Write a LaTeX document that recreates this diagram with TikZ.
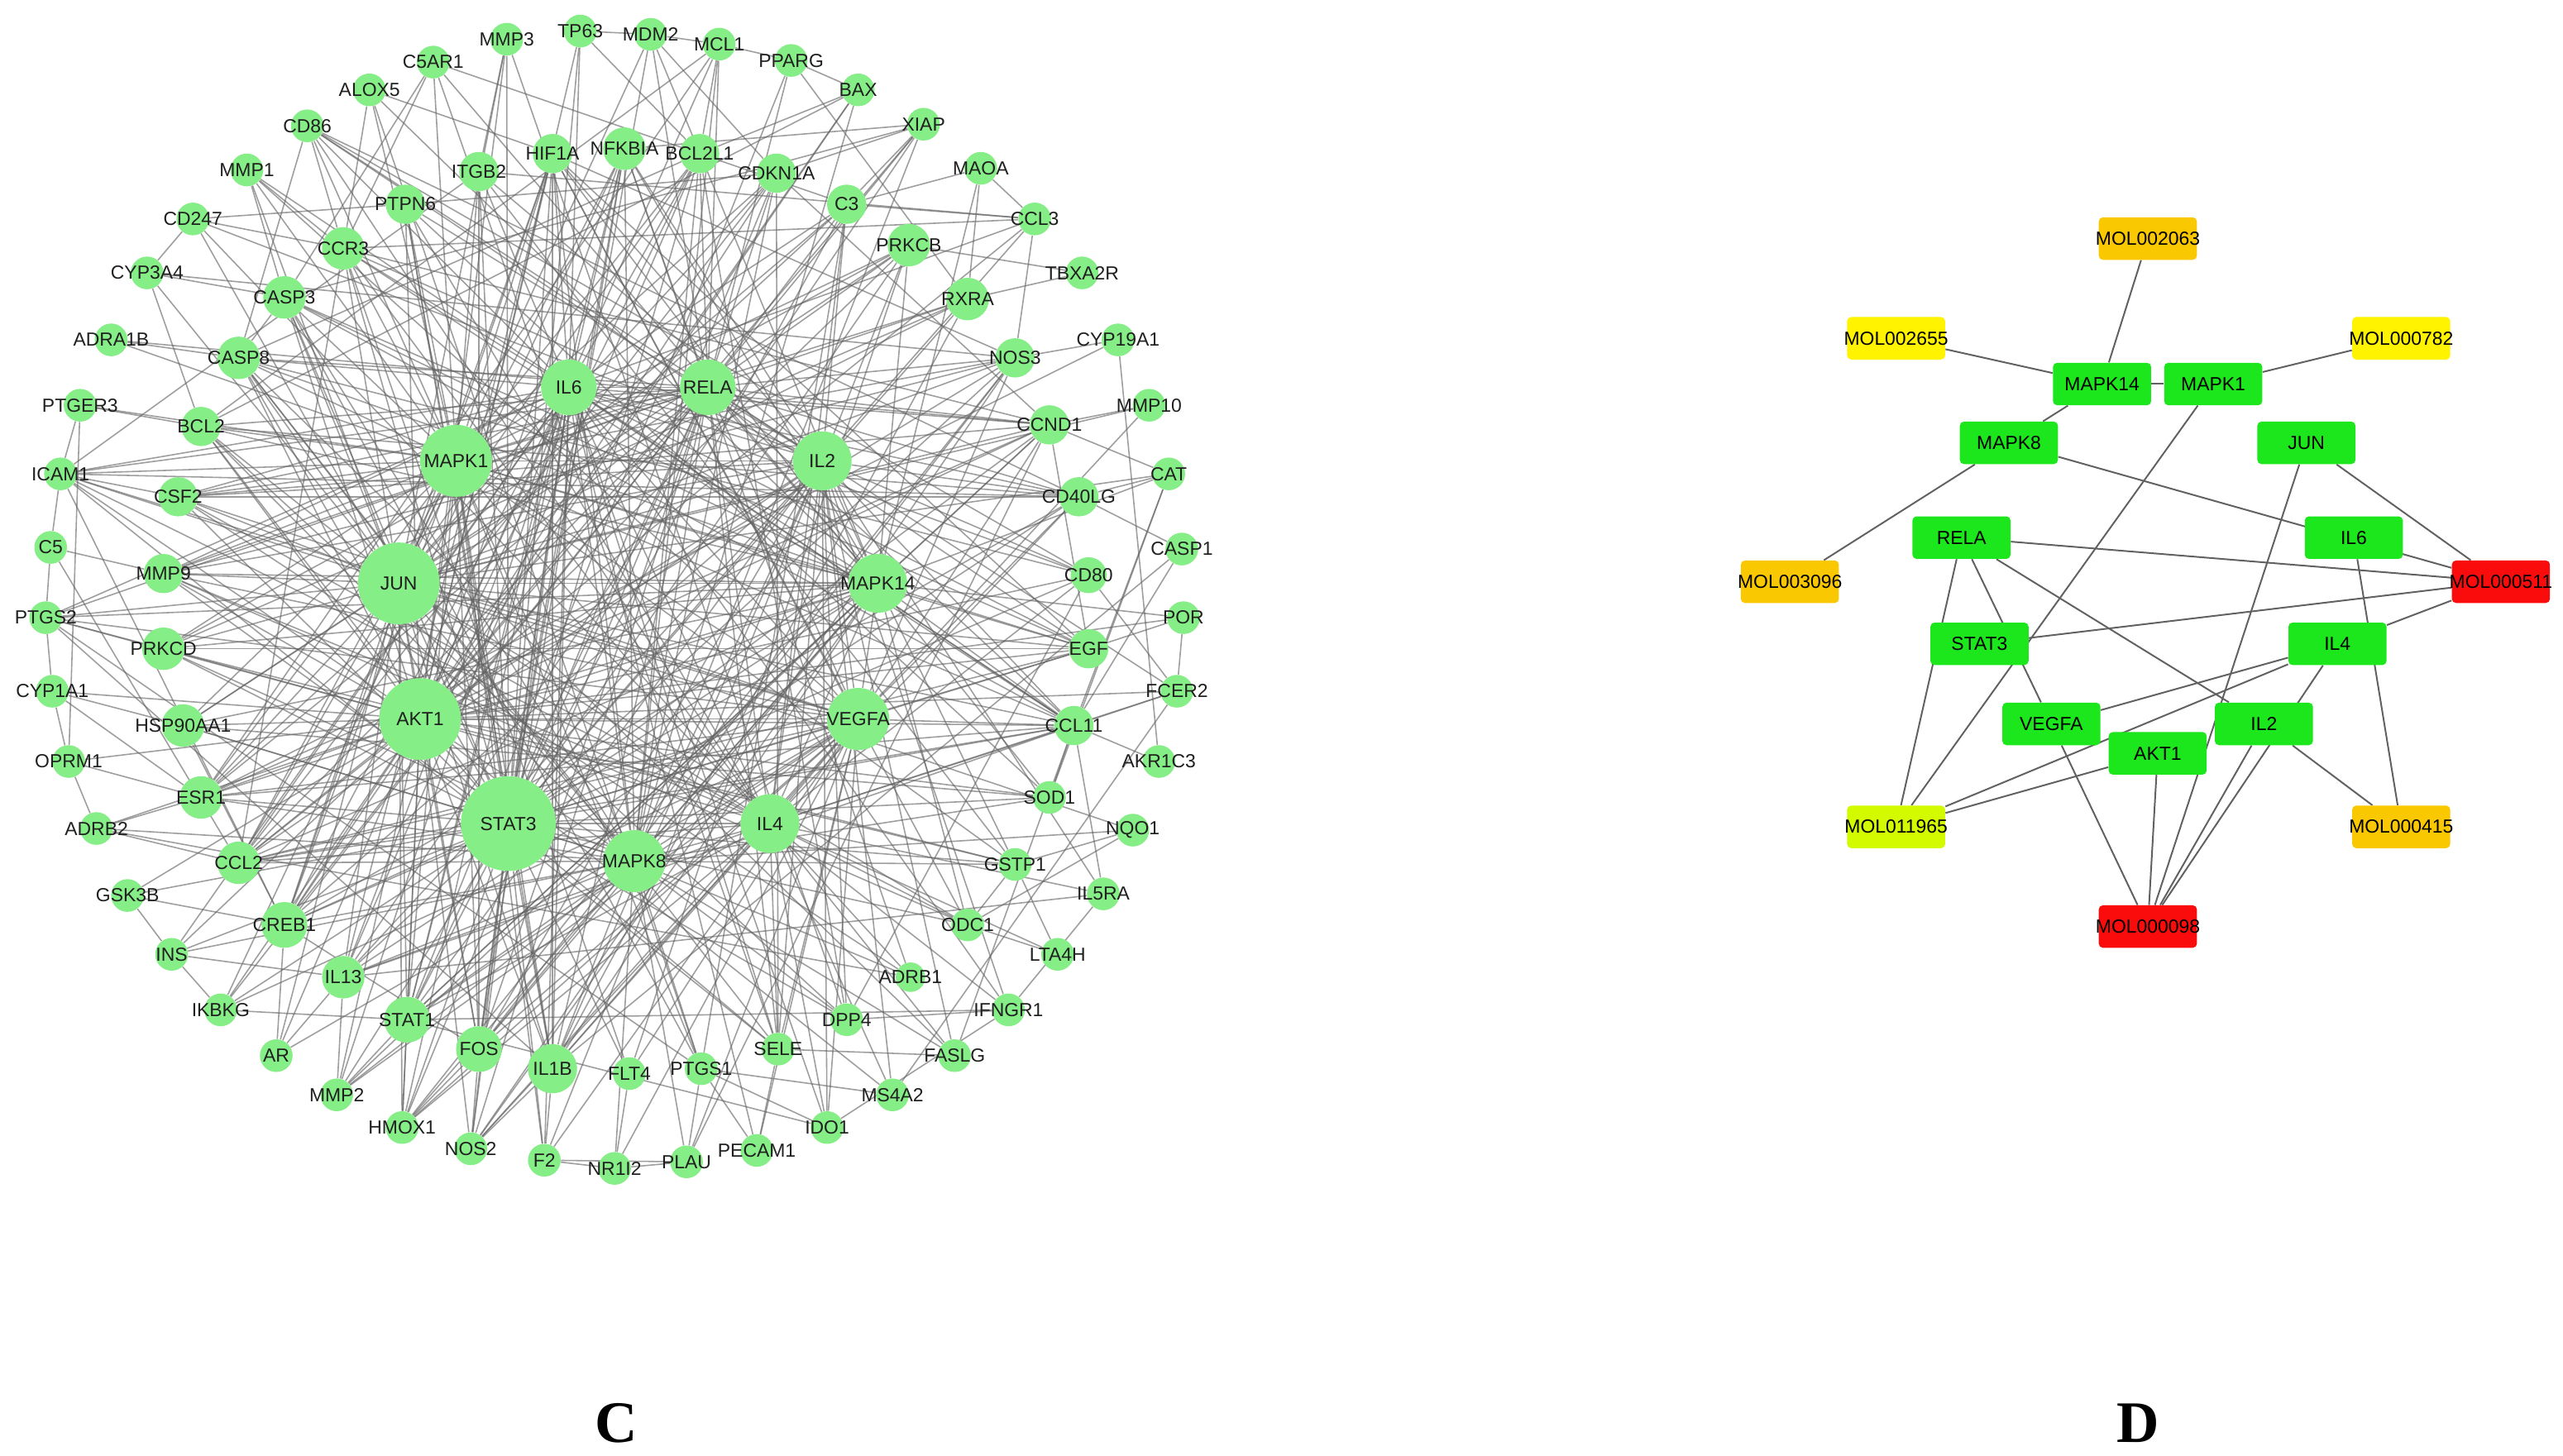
\documentclass[tikz,border=0pt]{standalone}
\usepackage{fontspec}
\setmainfont{Liberation Sans}
\newfontfamily\capfont{Liberation Serif}
\usetikzlibrary{backgrounds}
\definecolor{cgreen}{RGB}{134,238,134}
\definecolor{dgreen}{RGB}{28,230,28}
\definecolor{dorange}{RGB}{250,200,0}
\definecolor{dyellow}{RGB}{255,243,0}
\definecolor{dlime}{RGB}{212,250,0}
\definecolor{dred}{RGB}{250,12,12}
\definecolor{cedge}{RGB}{100,100,100}
\tikzset{
  cn/.style={circle, fill=cgreen, draw=none, inner sep=0pt},
  clab/.style={font=\fontsize{11.6}{12}\selectfont, text=black!88, inner sep=0pt},
  ce/.style={draw=cedge, line width=0.8pt, opacity=0.62},
  dbox/.style={rectangle, rounded corners=2.5pt, minimum width=60pt, minimum height=26pt, inner sep=0pt, draw=none},
  dlab/.style={font=\fontsize{11.6}{12}\selectfont, text=black, inner sep=0pt},
  de/.style={draw=black!62, line width=1pt},
  caplab/.style={font=\capfont\bfseries\fontsize{36}{40}\selectfont, inner sep=0pt}
}
\newcommand\mygn[4]{\node[cn, minimum size=#4pt, label={[clab]center:#1}] (#1) at (#2,#3) {};}
\newcommand\mydn[5]{\node[dbox, fill=#4, label={[dlab]center:#5}] (d#1) at (#2,#3) {};}
\begin{document}
\begin{tikzpicture}[x=1pt,y=-1pt]
\useasboundingbox (0,0) rectangle (1568,891);
% ---------------- panel C : outer ring
\mygn{TP63}{355}{19}{20}
\mygn{MDM2}{398}{21}{20}
\mygn{MCL1}{440}{27}{20}
\mygn{PPARG}{484}{37}{20}
\mygn{BAX}{525}{55}{20}
\mygn{XIAP}{565}{76}{20}
\mygn{MAOA}{600}{103}{20}
\mygn{CCL3}{633}{134}{20}
\mygn{TBXA2R}{662}{167}{20}
\mygn{CYP19A1}{684}{208}{20}
\mygn{MMP10}{703}{248}{20}
\mygn{CAT}{715}{290}{20}
\mygn{CASP1}{723}{336}{20}
\mygn{POR}{724}{378}{20}
\mygn{FCER2}{720}{423}{20}
\mygn{AKR1C3}{709}{466}{20}
\mygn{NQO1}{693}{508}{20}
\mygn{IL5RA}{675}{547}{20}
\mygn{LTA4H}{647}{584}{20}
\mygn{IFNGR1}{617}{618}{20}
\mygn{FASLG}{584}{646}{20}
\mygn{MS4A2}{546}{670}{20}
\mygn{IDO1}{506}{690}{20}
\mygn{PECAM1}{463}{704}{20}
\mygn{PLAU}{420}{711}{20}
\mygn{NR1I2}{376}{715}{20}
\mygn{F2}{333}{710}{20}
\mygn{NOS2}{288}{703}{20}
\mygn{HMOX1}{246}{690}{20}
\mygn{MMP2}{206}{670}{20}
\mygn{AR}{169}{646}{20}
\mygn{IKBKG}{135}{618}{20}
\mygn{INS}{105}{584}{20}
\mygn{GSK3B}{78}{548}{20}
\mygn{ADRB2}{59}{507}{20}
\mygn{OPRM1}{42}{466}{20}
\mygn{CYP1A1}{32}{423}{20}
\mygn{PTGS2}{28}{378}{20}
\mygn{C5}{31}{335}{20}
\mygn{ICAM1}{37}{290}{20}
\mygn{PTGER3}{49}{248}{20}
\mygn{ADRA1B}{68}{208}{20}
\mygn{CYP3A4}{90}{167}{20}
\mygn{CD247}{118}{134}{20}
\mygn{MMP1}{151}{104}{20}
\mygn{CD86}{188}{77}{20}
\mygn{ALOX5}{226}{55}{20}
\mygn{C5AR1}{265}{38}{20}
\mygn{MMP3}{310}{24}{20}
% inner ring
\mygn{HIF1A}{338}{94}{24}
\mygn{ITGB2}{293}{105}{24}
\mygn{PTPN6}{248}{125}{24}
\mygn{CCR3}{210}{152}{26}
\mygn{CASP3}{174}{182}{26}
\mygn{CASP8}{146}{219}{26}
\mygn{BCL2}{123}{261}{24}
\mygn{CSF2}{109}{304}{24}
\mygn{MMP9}{100}{351}{24}
\mygn{PRKCD}{100}{397}{26}
\mygn{HSP90AA1}{112}{444}{26}
\mygn{ESR1}{123}{488}{26}
\mygn{CCL2}{146}{528}{26}
\mygn{CREB1}{174}{566}{28}
\mygn{IL13}{210}{598}{26}
\mygn{STAT1}{249}{624}{28}
\mygn{FOS}{293}{642}{28}
\mygn{IL1B}{338}{654}{30}
\mygn{FLT4}{385}{657}{20}
\mygn{PTGS1}{429}{654}{20}
\mygn{SELE}{476}{642}{20}
\mygn{DPP4}{518}{624}{20}
\mygn{ADRB1}{557}{598}{18}
\mygn{ODC1}{592}{566}{20}
\mygn{GSTP1}{621}{529}{20}
\mygn{SOD1}{642}{488}{20}
\mygn{CCL11}{657}{444}{24}
\mygn{EGF}{666}{397}{24}
\mygn{CD80}{666}{352}{22}
\mygn{CD40LG}{660}{304}{24}
\mygn{CCND1}{642}{260}{24}
\mygn{NOS3}{621}{219}{24}
\mygn{RXRA}{592}{183}{26}
\mygn{PRKCB}{556}{150}{26}
\mygn{C3}{518}{125}{24}
\mygn{CDKN1A}{475}{106}{24}
\mygn{BCL2L1}{428}{94}{24}
\mygn{NFKBIA}{382}{91}{26}
% hubs
\mygn{IL6}{348}{237}{34}
\mygn{RELA}{433}{237}{34}
\mygn{IL2}{503}{282}{36}
\mygn{MAPK1}{279}{282}{44}
\mygn{JUN}{244}{357}{50}
\mygn{MAPK14}{537}{357}{36}
\mygn{AKT1}{257}{440}{50}
\mygn{VEGFA}{525}{440}{38}
\mygn{STAT3}{311}{504}{58}
\mygn{IL4}{471}{504}{36}
\mygn{MAPK8}{388}{527}{38}
% ---------------- panel D
\mydn{M002063}{1314}{146}{dorange}{MOL002063}
\mydn{M002655}{1160}{207}{dyellow}{MOL002655}
\mydn{M000782}{1469}{207}{dyellow}{MOL000782}
\mydn{MAPK14}{1286}{235}{dgreen}{MAPK14}
\mydn{MAPK1}{1354}{235}{dgreen}{MAPK1}
\mydn{MAPK8}{1229}{271}{dgreen}{MAPK8}
\mydn{JUN}{1411}{271}{dgreen}{JUN}
\mydn{RELA}{1200}{329}{dgreen}{RELA}
\mydn{IL6}{1440}{329}{dgreen}{IL6}
\mydn{M003096}{1095}{356}{dorange}{MOL003096}
\mydn{M000511}{1530}{356}{dred}{MOL000511}
\mydn{STAT3}{1211}{394}{dgreen}{STAT3}
\mydn{IL4}{1430}{394}{dgreen}{IL4}
\mydn{VEGFA}{1255}{443}{dgreen}{VEGFA}
\mydn{IL2}{1385}{443}{dgreen}{IL2}
\mydn{AKT1}{1320}{461}{dgreen}{AKT1}
\mydn{M011965}{1160}{506}{dlime}{MOL011965}
\mydn{M000415}{1469}{506}{dorange}{MOL000415}
\mydn{M000098}{1314}{567}{dred}{MOL000098}
% captions
\node[caplab] (capC) at (377,871) {C};
\node[caplab] (capD) at (1308,871) {D};
% ---------------- edges
\begin{pgfonlayer}{background}
\fill[white] (0,0) rectangle (1568,891);
% hub-hub
\foreach \a/\b in {STAT3/AKT1,STAT3/JUN,STAT3/MAPK1,STAT3/IL6,STAT3/RELA,STAT3/IL2,STAT3/MAPK14,STAT3/VEGFA,STAT3/IL4,STAT3/MAPK8,
AKT1/JUN,AKT1/MAPK1,AKT1/IL6,AKT1/RELA,AKT1/IL2,AKT1/MAPK14,AKT1/VEGFA,AKT1/IL4,AKT1/MAPK8,
JUN/MAPK1,JUN/IL6,JUN/RELA,JUN/IL2,JUN/MAPK14,JUN/VEGFA,JUN/IL4,JUN/MAPK8,
MAPK1/IL6,MAPK1/RELA,MAPK1/IL2,MAPK1/MAPK14,MAPK1/VEGFA,MAPK1/IL4,MAPK1/MAPK8,
IL6/RELA,IL6/IL2,IL6/MAPK14,IL6/VEGFA,IL6/IL4,IL6/MAPK8,
RELA/IL2,RELA/MAPK14,RELA/VEGFA,RELA/IL4,RELA/MAPK8,
IL2/MAPK14,IL2/VEGFA,IL2/IL4,IL2/MAPK8,MAPK14/VEGFA,MAPK14/IL4,MAPK14/MAPK8,VEGFA/IL4,VEGFA/MAPK8,IL4/MAPK8}
  \draw[ce] (\a) -- (\b);
\foreach \t in {MMP3,TP63,MDM2,HIF1A,NFKBIA,BCL2L1,CDKN1A,C3,PRKCB,RXRA,NOS3,CCND1,EGF,CCL11,SOD1,GSTP1,ODC1,DPP4,SELE,IL1B,FOS,STAT1,IL13,CREB1,CCL2,ESR1,HSP90AA1,PRKCD,MMP9,CSF2,BCL2,CASP8,CASP3,CCR3,PTPN6,ITGB2,IKBKG,MMP2,HMOX1,NOS2,F2,INS,GSK3B,CD40LG,FLT4}
  \draw[ce] (STAT3) -- (\t);
\foreach \t in {MMP3,TP63,MCL1,BAX,XIAP,HIF1A,NFKBIA,BCL2L1,CDKN1A,PRKCB,NOS3,CCND1,EGF,CCL11,GSTP1,IL1B,FOS,STAT1,CREB1,CCL2,ESR1,HSP90AA1,PRKCD,MMP9,BCL2,CASP8,CASP3,PTPN6,INS,GSK3B,IKBKG,AR,MMP2,HMOX1,NOS2,CYP1A1,PTGS2,ICAM1,ADRB2,OPRM1,POR,FCER2,CD80,SOD1,MS4A2}
  \draw[ce] (AKT1) -- (\t);
\foreach \t in {MMP1,MMP3,CD247,CYP3A4,MDM2,HIF1A,NFKBIA,BCL2L1,CDKN1A,C3,RXRA,NOS3,CCND1,EGF,CCL11,FOS,STAT1,CREB1,CCL2,ESR1,HSP90AA1,PRKCD,MMP9,CSF2,BCL2,CASP8,CASP3,CCR3,IL13,IL1B,MMP10,CAT,HMOX1,NQO1,ODC1,AR,PTGS2,ICAM1}
  \draw[ce] (JUN) -- (\t);
\foreach \t in {ALOX5,C5AR1,CD86,MMP1,HIF1A,ITGB2,PTPN6,CCR3,CASP3,CASP8,BCL2,CSF2,MMP9,PRKCD,HSP90AA1,ESR1,CCL2,CREB1,STAT1,FOS,IL1B,NOS3,RXRA,PRKCB,EGF,CCL11,CDKN1A,BCL2L1,GSTP1,PTGS1,F2,ADRA1B,PTGER3,ICAM1}
  \draw[ce] (MAPK1) -- (\t);
\foreach \t in {TP63,HIF1A,NFKBIA,BCL2L1,C3,CCL3,CD40LG,CD80,CCND1,EGF,CCL11,IL1B,FOS,STAT1,IL13,CREB1,CCL2,CSF2,MMP9,ICAM1,SELE,PTGS2,HMOX1,NOS2,F2,IDO1,PECAM1,MMP2,INS,IFNGR1,CASP8,CCR3,ITGB2,CD86}
  \draw[ce] (IL6) -- (\t);
\foreach \t in {MDM2,NFKBIA,BCL2L1,CDKN1A,XIAP,C3,PRKCB,RXRA,NOS3,CCND1,CD40LG,CCL11,IL1B,FOS,STAT1,IKBKG,CCL2,ICAM1,PTGS2,HMOX1,NOS2,SELE,CASP8,BCL2,MMP9,CSF2,ESR1,CREB1,MCL1,PPARG}
  \draw[ce] (RELA) -- (\t);
\foreach \t in {CD247,PTPN6,CCR3,CD86,CD80,CD40LG,CCL3,CCL11,FASLG,IL13,IL1B,STAT1,CSF2,MMP9,HIF1A,NFKBIA,C3,IFNGR1,IL5RA,SELE,DPP4,IDO1,FOS,CREB1,CCL2,MS4A2,FCER2,ITGB2}
  \draw[ce] (IL2) -- (\t);
\foreach \t in {MDM2,HIF1A,NFKBIA,PRKCB,CCND1,EGF,CCL11,IL1B,FOS,STAT1,CREB1,CCL2,HSP90AA1,ESR1,PRKCD,CASP3,CASP8,BCL2,MMP9,MMP2,PTGS2,NOS2,HMOX1,ALOX5,C5AR1,MAOA,POR,GSTP1,SOD1,CAT,ODC1}
  \draw[ce] (MAPK14) -- (\t);
\foreach \t in {HIF1A,EGF,NOS3,CCND1,CD40LG,PECAM1,SELE,FLT4,MMP9,MMP2,MMP1,MMP10,IL1B,FOS,STAT1,CCL2,CCL11,ICAM1,PTGS2,HMOX1,NOS2,F2,PLAU,CSF2,ESR1,AR,IDO1,NR1I2,IKBKG}
  \draw[ce] (VEGFA) -- (\t);
\foreach \t in {CCL11,CCL2,CCR3,CD40LG,CD80,CD86,FCER2,MS4A2,IL13,IL1B,IL5RA,STAT1,CSF2,IFNGR1,MMP9,IDO1,SELE,FASLG,ICAM1,HMOX1,PTPN6,CD247,NOS2,ODC1,ADRB1,LTA4H,C3}
  \draw[ce] (IL4) -- (\t);
\foreach \t in {HIF1A,NFKBIA,BCL2L1,CDKN1A,MCL1,BAX,XIAP,CASP3,CASP8,BCL2,FOS,STAT1,CREB1,CCL2,IL1B,HSP90AA1,ESR1,PRKCD,GSTP1,SOD1,NQO1,ADRB1,ADRB2,DPP4,FASLG,PTGS1,PLAU,NR1I2,IL13,INS,MMP2}
  \draw[ce] (MAPK8) -- (\t);
\foreach \a/\b in {TP63/MDM2,MDM2/MCL1,MCL1/PPARG,PPARG/BAX,NR1I2/PLAU,F2/NR1I2,CYP19A1/AKR1C3,C5/PTGS2,PTGS2/CYP1A1,CYP1A1/OPRM1,ICAM1/C5,PTGER3/ICAM1,CD247/CCR3,CD247/PTPN6,CYP3A4/CASP3,ADRA1B/CASP8,MMP1/CCR3,CD86/CCR3,ALOX5/CCR3,C5AR1/CCR3,MMP3/ITGB2,MDM2/CDKN1A,MCL1/BCL2L1,PPARG/RXRA,BAX/BCL2L1,XIAP/C3,XIAP/CDKN1A,MAOA/RXRA,CCL3/C3,CCL3/CCR3,TBXA2R/RXRA,CYP19A1/NOS3,MMP10/CCND1,CAT/CD40LG,CASP1/CD40LG,CASP1/IL1B,POR/EGF,FCER2/CCL11,AKR1C3/CCL11,SOD1/CCL11,NQO1/ODC1,IL5RA/CCL11,LTA4H/GSTP1,IFNGR1/DPP4,FASLG/SELE,MS4A2/PTGS1,IDO1/PTGS1,PECAM1/SELE,PLAU/PTGS1,NR1I2/FLT4,F2/IL1B,NOS2/FOS,HMOX1/STAT1,MMP2/IL13,AR/CREB1,IKBKG/STAT1,INS/IL13,GSK3B/CREB1,ADRB2/CCL2,OPRM1/ESR1,CYP1A1/HSP90AA1,PTGS2/PRKCD,C5/MMP9,ICAM1/CSF2,PTGER3/BCL2,CYP3A4/BCL2,MMP1/CASP3,CD86/CASP8,ALOX5/HIF1A,C5AR1/CASP3,TP63/BCL2L1,MAOA/C3,MAOA/CCL3,CCL3/NOS3,TBXA2R/PRKCB,CAT/CCND1,CAT/CCL11,CASP1/CCL11,POR/FCER2,FCER2/CD80,NQO1/GSTP1,IL5RA/IFNGR1,LTA4H/ODC1,FASLG/CCL11,MS4A2/FCER2,IDO1/IFNGR1,PECAM1/PTGS1,PLAU/F2,NOS2/IL1B,HMOX1/FOS,MMP2/STAT1,AR/IL13,IKBKG/INS,GSK3B/INS,ADRB2/ESR1,OPRM1/ADRB2,OPRM1/PTGER3,ICAM1/CREB1,C5/CCL2,CD247/CYP3A4,ITGB2/CCL3,PTPN6/CDKN1A,NFKBIA/XIAP,HIF1A/EGF,ITGB2/ICAM1,BCL2/MCL1,BCL2/BAX,CASP3/CASP8,CASP3/XIAP,CASP8/BCL2L1,HSP90AA1/CREB1,ESR1/CCND1,ESR1/CYP19A1,ESR1/CYP1A1,CCL2/CCR3,CCL2/CCL11,CCL2/CCL3,IL13/CCL11,IL13/IL5RA,STAT1/IFNGR1,STAT1/IDO1,FOS/CREB1,IL1B/PTGS2,PTGS1/PTGS2,SELE/ICAM1,DPP4/CD80,ADRB1/ADRB2,ODC1/GSTP1,SOD1/CAT,NOS3/NOS2,PRKCB/PRKCD,C3/C5AR1,CDKN1A/CCND1,NFKBIA/IKBKG,CD80/CD86,CD40LG/CD86,EGF/CCND1,HIF1A/NOS3}
  \draw[ce] (\a) -- (\b);
% long cross edges
\foreach \a/\b in {HIF1A/CREB1,NFKBIA/STAT1,BCL2L1/IL13,CDKN1A/CCL2,C3/ESR1,PRKCB/HSP90AA1,RXRA/PRKCD,NOS3/MMP9,CCND1/CSF2,CD40LG/BCL2,CD80/CASP8,EGF/CASP3,CCL11/CCR3,SOD1/PTPN6,GSTP1/ITGB2,ODC1/HIF1A,ADRB1/NFKBIA,DPP4/BCL2L1,SELE/CDKN1A,PTGS1/C3,FLT4/PRKCB,IL1B/RXRA,FOS/NOS3,STAT1/CCND1,IL13/CD40LG,CREB1/CD80,CCL2/EGF,ESR1/CCL11,HSP90AA1/SOD1,PRKCD/GSTP1,MMP9/ODC1,CSF2/ADRB1,BCL2/DPP4,CASP8/SELE,CASP3/PTGS1,CCR3/FLT4,PTPN6/IL1B,ITGB2/FOS,CD86/EGF,MMP1/CCL11,CYP3A4/NOS3,ADRA1B/CCND1,C5AR1/SELE,ALOX5/PTGS1,MMP3/DPP4,PPARG/STAT1,BAX/CREB1,MCL1/ESR1,XIAP/IL13,HMOX1/NOS3,PLAU/CCND1,FASLG/CASP8,F2/PRKCB,ICAM1/CD40LG,CCR3/CCND1,CASP3/CCL11,HIF1A/IL1B,NFKBIA/FOS,EGF/PRKCD,CD40LG/CSF2,IL13/HIF1A}
  \draw[ce] (\a) -- (\b);
% panel D edges
\foreach \a/\b in {M002063/MAPK14,M002655/MAPK14,MAPK14/MAPK1,M000782/MAPK1,MAPK14/MAPK8,MAPK8/M003096,MAPK8/M000511,MAPK1/M011965,JUN/M000511,JUN/M000098,RELA/M000511,IL6/M000415,STAT3/M000511,IL4/M000511,RELA/M011965,RELA/VEGFA,RELA/IL2,IL4/VEGFA,IL4/M011965,AKT1/M011965,IL4/M000098,IL2/M000415,IL2/M000098,AKT1/M000098,VEGFA/M000098}
  \draw[de] (d\a) -- (d\b);
\end{pgfonlayer}
\end{tikzpicture}
\end{document}
